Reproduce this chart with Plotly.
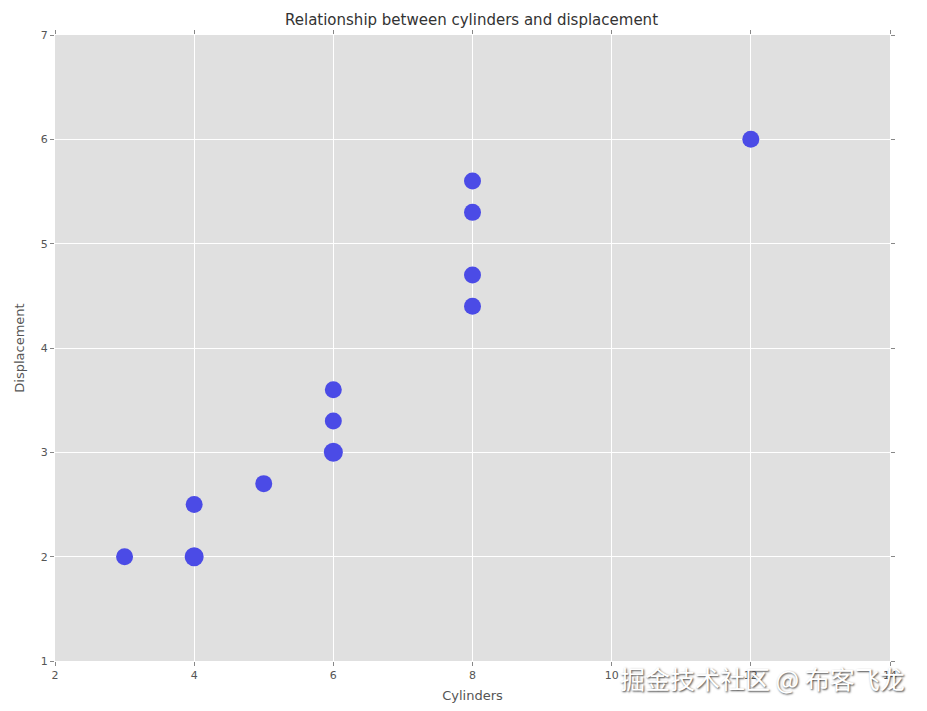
# Plotly libraries
import plotly.graph_objects as go

# Data
cylinders = [3, 4, 4, 5, 6, 6, 6, 8, 8, 8, 8, 12]
displacement = [2.0, 2.0, 2.5, 2.7, 3.0, 3.3, 3.6, 4.4, 4.7, 5.3, 5.6, 6.0]
counts = [1, 2, 1, 1, 2, 1, 1, 1, 1, 1, 1, 1]  # overlapping cars per point

x_ticks = [2, 4, 6, 8, 10, 12, 14]
y_ticks = [1, 2, 3, 4, 5, 6, 7]

fig = go.Figure()

fig.add_trace(go.Scatter(
    x=cylinders, y=displacement, mode='markers',
    marker=dict(size=[17 + 2 * (c - 1) for c in counts],
                color='#4b4be6', opacity=1,
                line=dict(width=0)),
    showlegend=False))

axis_style = dict(showgrid=True, gridcolor='white', gridwidth=1,
                  zeroline=False, showline=False,
                  ticks='outside', ticklen=4, tickcolor='#888',
                  mirror='ticks',
                  tickfont=dict(family='DejaVu Sans', size=11, color='#555'))

fig.update_xaxes(range=[2, 14], tickvals=x_ticks,
                 title=dict(text='Cylinders', standoff=9,
                            font=dict(family='DejaVu Sans', size=13, color='#555')),
                 **axis_style)
fig.update_yaxes(range=[1, 7], tickvals=y_ticks,
                 title=dict(text='Displacement', standoff=13,
                            font=dict(family='DejaVu Sans', size=13, color='#555')),
                 **axis_style)

# Watermark from the original image
fig.add_annotation(text='掘金技术社区 @ 布客飞龙', xref='paper', yref='paper',
                   x=1.02, y=-0.027, xanchor='right', yanchor='middle',
                   showarrow=False,
                   font=dict(family='Noto Sans CJK SC', size=25, color='white',
                             shadow='1px 1px 2px #444'))

# page body adds 8px offset, so margins are shifted to match
fig.update_layout(
    width=927, height=711,
    margin=dict(l=47, r=45, t=27, b=58),
    plot_bgcolor='#e0e0e0', paper_bgcolor='white',
    title=dict(text='Relationship between cylinders and displacement',
               x=0.5, xanchor='center', y=0.983, yanchor='middle',
               font=dict(family='DejaVu Sans', size=15, color='#333')),
)

fig.write_html("out.html")
